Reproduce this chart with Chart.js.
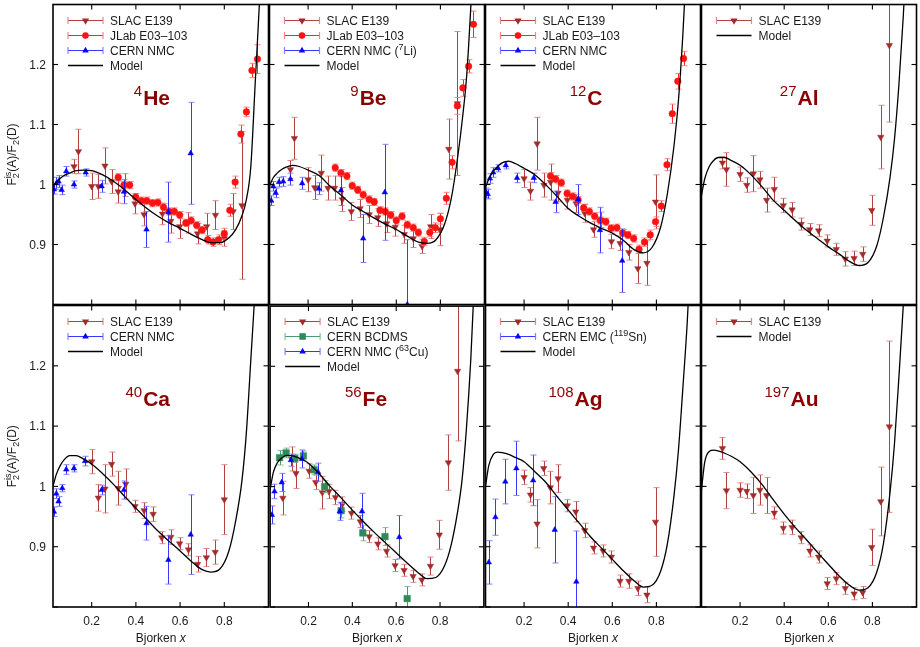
<!DOCTYPE html>
<html>
<head>
<meta charset="utf-8">
<script src="https://cdn.jsdelivr.net/npm/chart.js@4.4.0/dist/chart.umd.min.js"></script>
<style>
  body { margin: 0; background: #fff; }
  #wrap { position: relative; width: 920px; height: 647px; overflow: hidden; }
  #wrap canvas { position: absolute; }
</style>
</head>
<body>
<div id="wrap"></div>
<script>
// axis ticks
const xTicks = [0.2, 0.4, 0.6, 0.8];
const xTickLabels = ["0.2", "0.4", "0.6", "0.8"];
const yTicks = [0.8, 0.9, 1.0, 1.1, 1.2];
const yTickLabels = ["", "0.9", "1", "1.1", "1.2"];

// model curves, common x grid
const modelX = [0.025,0.04,0.06,0.08,0.1,0.13,0.16,0.2,0.25,0.3,0.35,0.4,0.45,0.5,0.55,0.6,0.65,0.7,0.74,0.78,0.82,0.85,0.88,0.9,0.92,0.94,0.96,0.98];
const heModel = [0.997,1.004,1.011,1.016,1.019,1.023,1.024,1.023,1.016,1.005,0.991,0.975,0.960,0.947,0.936,0.927,0.917,0.908,0.903,0.903,0.911,0.924,0.948,0.975,1.03,1.17,1.31,1.5];
const beModel = [0.997,1.010,1.019,1.025,1.029,1.032,1.030,1.024,1.015,0.997,0.982,0.966,0.955,0.944,0.934,0.925,0.914,0.904,0.902,0.908,0.935,0.978,1.05,1.11,1.185,1.31,1.45,1.65];
const cModel  = [0.995,1.009,1.022,1.030,1.036,1.039,1.035,1.027,1.016,0.999,0.980,0.960,0.947,0.936,0.927,0.919,0.907,0.891,0.886,0.895,0.93,0.985,1.065,1.14,1.25,1.39,1.55,1.75];
const alModel = [0.982,1.010,1.030,1.040,1.045,1.045,1.040,1.032,1.016,0.996,0.974,0.957,0.940,0.924,0.910,0.896,0.884,0.871,0.865,0.870,0.898,0.945,1.012,1.075,1.165,1.28,1.42,1.6];
const caModel = [1.0,1.020,1.036,1.046,1.051,1.051,1.046,1.037,1.021,1.003,0.983,0.964,0.945,0.926,0.909,0.893,0.876,0.862,0.858,0.863,0.892,0.94,1.01,1.09,1.21,1.33,1.46,1.65];
const feModel = [0.995,1.024,1.041,1.048,1.052,1.051,1.047,1.039,1.021,1.000,0.981,0.961,0.942,0.924,0.907,0.890,0.873,0.857,0.847,0.849,0.868,0.902,0.958,1.01,1.095,1.21,1.37,1.55];
const agModel = [1.0,1.035,1.053,1.057,1.056,1.053,1.048,1.041,1.024,1.006,0.983,0.961,0.939,0.917,0.898,0.879,0.860,0.843,0.833,0.836,0.860,0.905,0.985,1.06,1.163,1.273,1.42,1.6];
const auModel = [0.995,1.041,1.058,1.060,1.059,1.055,1.050,1.041,1.024,1.003,0.978,0.954,0.932,0.912,0.891,0.871,0.851,0.835,0.828,0.832,0.858,0.905,0.99,1.07,1.18,1.30,1.45,1.65];

// 4He
const heSlacX = [0.12,0.14,0.2,0.23,0.26,0.29,0.32,0.35,0.396,0.437,0.52,0.558,0.598,0.638,0.679,0.72,0.76,0.80,0.84,0.88];
const heSlacY = [1.030,1.055,0.997,0.997,1.031,1.005,0.988,0.999,0.968,0.950,0.951,0.939,0.930,0.936,0.918,0.930,0.949,0.910,0.955,0.965];
const heSlacErr = [0.012,0.037,0.022,0.02,0.03,0.02,0.019,0.019,0.017,0.019,0.018,0.02,0.02,0.017,0.017,0.022,0.024,0.013,0.03,0.123];
const heJlabX = [0.32,0.346,0.372,0.399,0.425,0.449,0.475,0.499,0.525,0.55,0.574,0.598,0.626,0.65,0.675,0.70,0.725,0.749,0.774,0.80,0.825,0.849,0.875,0.90,0.925,0.95];
const heJlabY = [1.012,0.999,0.999,0.979,0.973,0.973,0.969,0.970,0.962,0.955,0.955,0.949,0.936,0.940,0.932,0.924,0.908,0.904,0.908,0.918,0.957,1.004,1.084,1.121,1.19,1.209];
const heJlabErr = [0.006,0.006,0.006,0.006,0.006,0.006,0.006,0.006,0.006,0.006,0.006,0.006,0.006,0.006,0.006,0.006,0.007,0.007,0.008,0.009,0.01,0.01,0.015,0.008,0.012,0.024];
const heNmcX = [0.029,0.04,0.05,0.064,0.085,0.12,0.173,0.245,0.346,0.448,0.547,0.648];
const heNmcY = [0.992,1.002,1.005,0.991,1.022,1.0,1.02,0.997,0.988,0.925,0.954,1.052];
const heNmcErr = [0.008,0.01,0.01,0.008,0.008,0.006,0.006,0.01,0.02,0.03,0.05,0.085];

// 9Be
const beSlacX = [0.12,0.138,0.2,0.23,0.26,0.29,0.32,0.355,0.396,0.436,0.477,0.516,0.556,0.595,0.636,0.677,0.717,0.756,0.797,0.838,0.877];
const beSlacY = [1.025,1.077,1.008,0.995,1.019,0.994,0.994,0.975,0.955,0.960,0.950,0.945,0.935,0.929,0.917,0.910,0.897,0.930,0.925,1.059,1.135];
const beSlacErr = [0.015,0.035,0.02,0.02,0.03,0.02,0.02,0.02,0.015,0.015,0.015,0.015,0.015,0.015,0.015,0.015,0.012,0.02,0.027,0.05,0.12];
const beJlabX = [0.323,0.349,0.376,0.4,0.425,0.45,0.477,0.5,0.526,0.55,0.575,0.6,0.626,0.65,0.677,0.70,0.727,0.752,0.777,0.80,0.827,0.853,0.877,0.902,0.928,0.95];
const beJlabY = [1.028,1.019,1.014,0.998,0.991,0.983,0.975,0.971,0.957,0.955,0.949,0.94,0.947,0.933,0.928,0.92,0.905,0.92,0.928,0.943,0.977,1.037,1.131,1.161,1.197,1.267];
const beJlabErr = [0.006,0.006,0.006,0.006,0.006,0.006,0.006,0.006,0.006,0.006,0.006,0.006,0.006,0.006,0.006,0.006,0.007,0.007,0.008,0.009,0.01,0.011,0.014,0.014,0.011,0.022];
const beNmcX = [0.033,0.042,0.053,0.068,0.087,0.12,0.173,0.248,0.349,0.45,0.548,0.65];
const beNmcY = [0.973,0.997,0.986,1.004,1.005,1.009,1.002,0.993,0.990,0.910,0.987,0.80];
const beNmcErr = [0.008,0.008,0.008,0.008,0.008,0.01,0.01,0.01,0.025,0.04,0.08,0.108];

// 12C
const cSlacX = [0.2,0.229,0.259,0.29,0.32,0.354,0.396,0.436,0.475,0.515,0.55,0.596,0.635,0.675,0.716,0.757,0.796];
const cSlacY = [1.01,0.989,1.068,0.999,1.004,0.986,0.974,0.968,0.952,0.925,0.941,0.905,0.902,0.887,0.86,0.869,0.971];
const cSlacErr = [0.015,0.015,0.044,0.02,0.03,0.015,0.015,0.015,0.015,0.013,0.013,0.012,0.012,0.013,0.025,0.037,0.045];
const cJlabX = [0.32,0.343,0.369,0.395,0.42,0.445,0.47,0.496,0.52,0.546,0.571,0.595,0.621,0.647,0.671,0.697,0.721,0.746,0.772,0.796,0.822,0.848,0.872,0.897,0.923];
const cJlabY = [1.014,1.009,1.003,0.985,0.98,0.974,0.961,0.955,0.947,0.94,0.938,0.927,0.928,0.919,0.916,0.91,0.892,0.904,0.916,0.938,0.964,1.033,1.118,1.172,1.21];
const cJlabErr = [0.006,0.006,0.006,0.006,0.006,0.006,0.006,0.006,0.006,0.006,0.006,0.006,0.006,0.006,0.006,0.006,0.007,0.007,0.008,0.008,0.009,0.01,0.016,0.013,0.012];
const cNmcX = [0.029,0.035,0.045,0.06,0.082,0.117,0.168,0.244,0.343,0.445,0.544,0.645];
const cNmcY = [0.986,0.984,1.01,1.02,1.027,1.032,1.011,1.011,0.971,0.975,0.924,0.873];
const cNmcErr = [0.008,0.008,0.008,0.008,0.006,0.006,0.008,0.008,0.018,0.025,0.038,0.053];

// 27Al
const alSlacX = [0.12,0.138,0.2,0.23,0.26,0.29,0.32,0.355,0.396,0.436,0.477,0.516,0.556,0.595,0.636,0.677,0.717,0.756,0.797,0.838,0.877];
const alSlacY = [1.036,1.025,1.017,0.999,1.018,1.008,0.974,0.992,0.965,0.958,0.934,0.925,0.923,0.906,0.892,0.876,0.877,0.884,0.957,1.079,1.232];
const alSlacErr = [0.01,0.028,0.012,0.012,0.03,0.014,0.02,0.02,0.012,0.012,0.01,0.01,0.01,0.01,0.01,0.012,0.012,0.012,0.025,0.053,0.128];

// 40Ca
const caSlacX = [0.2,0.23,0.26,0.29,0.32,0.354,0.396,0.437,0.478,0.517,0.558,0.598,0.638,0.679,0.719,0.759,0.80];
const caSlacY = [1.041,0.981,0.996,1.037,0.997,1.004,0.967,0.960,0.954,0.915,0.916,0.905,0.895,0.871,0.882,0.891,0.978];
const caSlacErr = [0.02,0.022,0.04,0.02,0.028,0.025,0.01,0.013,0.012,0.01,0.012,0.01,0.01,0.013,0.015,0.02,0.058];
const caNmcX = [0.029,0.04,0.05,0.067,0.085,0.12,0.17,0.245,0.346,0.448,0.547,0.648];
const caNmcY = [0.958,0.988,0.975,0.997,1.028,1.03,1.042,0.994,0.994,0.939,0.878,0.92];
const caNmcErr = [0.008,0.008,0.008,0.006,0.008,0.006,0.008,0.008,0.015,0.028,0.04,0.066];

// 56Fe
const feSlacX = [0.083,0.123,0.143,0.203,0.233,0.263,0.293,0.323,0.355,0.396,0.436,0.477,0.516,0.556,0.595,0.636,0.677,0.717,0.756,0.797,0.838,0.88];
const feSlacY = [0.981,1.046,1.022,1.026,1.007,0.99,0.992,0.982,0.971,0.956,0.942,0.917,0.905,0.893,0.869,0.861,0.851,0.845,0.868,0.92,1.04,1.192];
const feSlacErr = [0.028,0.02,0.025,0.012,0.012,0.027,0.012,0.012,0.012,0.01,0.01,0.01,0.01,0.01,0.01,0.01,0.01,0.01,0.015,0.024,0.046,0.116];
const feBcdmsX = [0.068,0.098,0.138,0.177,0.226,0.274,0.349,0.448,0.549,0.65];
const feBcdmsY = [1.048,1.056,1.047,1.051,1.028,1.0,0.96,0.923,0.917,0.814];
const feBcdmsErr = [0.012,0.008,0.007,0.008,0.008,0.01,0.012,0.013,0.015,0.02];
const feNmcX = [0.033,0.045,0.078,0.12,0.17,0.244,0.343,0.444,0.614];
const feNmcY = [0.953,0.992,1.007,1.044,1.046,1.024,0.959,0.959,0.916];
const feNmcErr = [0.015,0.012,0.015,0.01,0.015,0.015,0.015,0.03,0.036];

// 108Ag
const agSlacX = [0.2,0.229,0.259,0.289,0.319,0.354,0.396,0.434,0.475,0.515,0.558,0.596,0.635,0.675,0.716,0.757,0.796];
const agSlacY = [1.015,0.986,0.938,1.03,0.998,1.013,0.968,0.958,0.927,0.898,0.893,0.883,0.843,0.843,0.831,0.82,0.941];
const agSlacErr = [0.012,0.012,0.04,0.012,0.027,0.023,0.01,0.017,0.012,0.01,0.01,0.01,0.01,0.012,0.012,0.013,0.057];
const agEmcX = [0.04,0.07,0.115,0.165,0.241,0.339,0.437];
const agEmcY = [0.874,0.949,1.008,1.03,1.01,0.928,0.842];
const agEmcErr = [0.036,0.03,0.037,0.045,0.042,0.055,0.084];

// 197Au
const auSlacX = [0.12,0.138,0.2,0.23,0.26,0.29,0.32,0.355,0.396,0.436,0.477,0.516,0.556,0.595,0.636,0.677,0.717,0.756,0.797,0.838,0.877];
const auSlacY = [1.063,0.993,0.994,0.992,0.985,0.994,0.985,0.956,0.931,0.932,0.915,0.893,0.883,0.839,0.847,0.831,0.822,0.824,0.899,0.975,1.099];
const auSlacErr = [0.018,0.03,0.012,0.012,0.03,0.025,0.03,0.01,0.01,0.012,0.01,0.01,0.01,0.01,0.01,0.01,0.01,0.01,0.03,0.057,0.142];

const FONT = '"Liberation Sans", Arial, Helvetica, sans-serif';

// look of each experiment
const STYLE = {
    slac:  { color: "#a52a2a", bar: "rgba(170,45,45,0.9)", cap: "rgba(215,120,120,0.85)", shape: "triangle", rot: 180, r: 3.7 },
    jlab:  { color: "#ff1212", bar: "rgba(240,20,20,0.9)", cap: "rgba(255,120,120,0.9)", shape: "circle", rot: 0, r: 3.3 },
    nmc:   { color: "#0000ff", bar: "rgba(20,20,255,0.85)", cap: "rgba(110,110,255,0.85)", shape: "triangle", rot: 0, r: 3.2 },
    bcdms: { color: "#2e8b57", bar: "rgba(46,139,87,0.85)", cap: "rgba(110,180,140,0.85)", shape: "rect", rot: 0, r: 4.6 }
};

const panels = [
    { mass: "4", el: "He", model: heModel, sets: [
        { kind: "slac", label: "SLAC E139", x: heSlacX, y: heSlacY, err: heSlacErr },
        { kind: "jlab", label: "JLab E03\u2013103", x: heJlabX, y: heJlabY, err: heJlabErr },
        { kind: "nmc", label: "CERN NMC", x: heNmcX, y: heNmcY, err: heNmcErr } ] },
    { mass: "9", el: "Be", model: beModel, sets: [
        { kind: "slac", label: "SLAC E139", x: beSlacX, y: beSlacY, err: beSlacErr },
        { kind: "jlab", label: "JLab E03\u2013103", x: beJlabX, y: beJlabY, err: beJlabErr },
        { kind: "nmc", label: "CERN NMC (^{7}Li)", x: beNmcX, y: beNmcY, err: beNmcErr } ] },
    { mass: "12", el: "C", model: cModel, sets: [
        { kind: "slac", label: "SLAC E139", x: cSlacX, y: cSlacY, err: cSlacErr },
        { kind: "jlab", label: "JLab E03\u2013103", x: cJlabX, y: cJlabY, err: cJlabErr },
        { kind: "nmc", label: "CERN NMC", x: cNmcX, y: cNmcY, err: cNmcErr } ] },
    { mass: "27", el: "Al", model: alModel, sets: [
        { kind: "slac", label: "SLAC E139", x: alSlacX, y: alSlacY, err: alSlacErr } ] },
    { mass: "40", el: "Ca", model: caModel, sets: [
        { kind: "slac", label: "SLAC E139", x: caSlacX, y: caSlacY, err: caSlacErr },
        { kind: "nmc", label: "CERN NMC", x: caNmcX, y: caNmcY, err: caNmcErr } ] },
    { mass: "56", el: "Fe", model: feModel, sets: [
        { kind: "slac", label: "SLAC E139", x: feSlacX, y: feSlacY, err: feSlacErr },
        { kind: "bcdms", label: "CERN BCDMS", x: feBcdmsX, y: feBcdmsY, err: feBcdmsErr },
        { kind: "nmc", label: "CERN NMC (^{63}Cu)", x: feNmcX, y: feNmcY, err: feNmcErr } ] },
    { mass: "108", el: "Ag", model: agModel, sets: [
        { kind: "slac", label: "SLAC E139", x: agSlacX, y: agSlacY, err: agSlacErr },
        { kind: "nmc", label: "CERN EMC (^{119}Sn)", x: agEmcX, y: agEmcY, err: agEmcErr } ] },
    { mass: "197", el: "Au", model: auModel, sets: [
        { kind: "slac", label: "SLAC E139", x: auSlacX, y: auSlacY, err: auSlacErr } ] }
];

// text with _{sub} and ^{sup}; a sup right after a sub is stacked over it
function richLayout(ctx, str, size) {
    const parts = str.split(/(_\{[^}]*\}|\^\{[^}]*\})/).filter(s => s);
    let x = 0, lastSub = null;
    const out = [];
    parts.forEach(s => {
        let kind = "n", t = s;
        if (s.startsWith("_{")) { kind = "sub"; t = s.slice(2, -1); }
        else if (s.startsWith("^{")) { kind = "sup"; t = s.slice(2, -1); }
        const fs = kind === "n" ? size : Math.round(size * 0.72);
        ctx.font = fs + "px " + FONT;
        const w = ctx.measureText(t).width;
        if (kind === "sup" && lastSub) {
            out.push({ t, kind, fs, x: lastSub.x });
            x = lastSub.x + Math.max(lastSub.w, w);
            lastSub = null;
            return;
        }
        const seg = { t, kind, fs, x, w };
        out.push(seg);
        x += w;
        lastSub = kind === "sub" ? seg : null;
    });
    return { segs: out, width: x };
}

function drawRich(ctx, str, x, y, size, align) {
    const lay = richLayout(ctx, str, size);
    const x0 = align === "center" ? x - lay.width / 2 : x;
    ctx.textAlign = "left";
    ctx.textBaseline = "alphabetic";
    lay.segs.forEach(s => {
        ctx.font = s.fs + "px " + FONT;
        const dy = s.kind === "sub" ? size * 0.28 : s.kind === "sup" ? -size * 0.42 : 0;
        ctx.fillText(s.t, x0 + s.x, y + dy);
    });
}

function line(ctx, x1, y1, x2, y2) {
    ctx.beginPath();
    ctx.moveTo(x1, y1);
    ctx.lineTo(x2, y2);
    ctx.stroke();
}

function panelPlugin(p, row, col) {
    return {
        id: "panel" + row + col,
        beforeDatasetDraw(chart, args) {
            const ds = chart.data.datasets[args.index];
            if (!ds.err) return;
            const st = STYLE[ds.kind];
            const { ctx, chartArea: a } = chart;
            const xs = chart.scales.x, ys = chart.scales.y;
            ctx.save();
            ctx.beginPath();
            ctx.rect(a.left, a.top, a.right - a.left, a.bottom - a.top);
            ctx.clip();
            ctx.lineWidth = 1;
            ds.data.forEach((pt, j) => {
                const px = Math.round(xs.getPixelForValue(pt.x)) + 0.5;
                const yHi = ys.getPixelForValue(pt.y + ds.err[j]);
                const yLo = ys.getPixelForValue(pt.y - ds.err[j]);
                ctx.strokeStyle = st.bar;
                line(ctx, px, yHi, px, yLo);
                ctx.strokeStyle = st.cap;
                line(ctx, px - 3, yHi, px + 3, yHi);
                line(ctx, px - 3, yLo, px + 3, yLo);
            });
            ctx.restore();
        },
        afterDatasetsDraw(chart) {
            const { ctx, chartArea: a } = chart;
            const xs = chart.scales.x, ys = chart.scales.y;
            ctx.save();

            // frame and inward ticks on all sides
            ctx.strokeStyle = "#000";
            ctx.lineWidth = 1.6;
            ctx.strokeRect(a.left, a.top, a.right - a.left, a.bottom - a.top);
            ctx.lineWidth = 1.1;
            xTicks.forEach(v => {
                const px = xs.getPixelForValue(v);
                line(ctx, px, a.bottom, px, a.bottom - 5);
                line(ctx, px, a.top, px, a.top + 5);
            });
            yTicks.forEach(v => {
                const py = ys.getPixelForValue(v);
                line(ctx, a.left, py, a.left + 5, py);
                line(ctx, a.right, py, a.right - 5, py);
            });

            ctx.fillStyle = "#1a1a1a";
            if (col === 0) {
                ctx.font = "12px " + FONT;
                ctx.textAlign = "right";
                ctx.textBaseline = "middle";
                yTicks.forEach((v, k) => ctx.fillText(yTickLabels[k], a.left - 7, ys.getPixelForValue(v) + 1));
                ctx.save();
                ctx.translate(12, (a.top + a.bottom) / 2);
                ctx.rotate(-Math.PI / 2);
                drawRich(ctx, "F_{2}^{is}(A)/F_{2}(D)", 0, 4, 12, "center");
                ctx.restore();
            }
            if (row === 1) {
                ctx.font = "12px " + FONT;
                ctx.textAlign = "center";
                ctx.textBaseline = "alphabetic";
                xTicks.forEach((v, k) => ctx.fillText(xTickLabels[k], xs.getPixelForValue(v), a.bottom + 18));
                const cx = (a.left + a.right) / 2;
                ctx.font = "12px " + FONT;
                const w1 = ctx.measureText("Bjorken ").width;
                ctx.font = "italic 12px " + FONT;
                const w2 = ctx.measureText("x").width;
                ctx.textAlign = "left";
                ctx.font = "12px " + FONT;
                ctx.fillText("Bjorken ", cx - (w1 + w2) / 2, a.bottom + 35);
                ctx.font = "italic 12px " + FONT;
                ctx.fillText("x", cx - (w1 + w2) / 2 + w1, a.bottom + 35);
            }

            // legend
            const entries = p.sets.map(s => ({ kind: s.kind, label: s.label }));
            entries.push({ kind: null, label: "Model" });
            entries.forEach((e, k) => {
                const yy = Math.round(a.top + 15 + 15 * k) + 0.5;
                const x0 = a.left + 15, x1 = a.left + 50;
                if (e.kind) {
                    const st = STYLE[e.kind];
                    ctx.lineWidth = 1.2;
                    ctx.strokeStyle = st.bar;
                    line(ctx, x0, yy, x1, yy);
                    ctx.strokeStyle = st.cap;
                    line(ctx, x0, yy - 3.5, x0, yy + 3.5);
                    line(ctx, x1, yy - 3.5, x1, yy + 3.5);
                    ctx.fillStyle = st.color;
                    ctx.strokeStyle = st.color;
                    Chart.helpers.drawPoint(ctx, { pointStyle: st.shape, rotation: st.rot, radius: st.r * 0.8, borderWidth: 0.5 }, (x0 + x1) / 2, yy);
                } else {
                    ctx.lineWidth = 1.3;
                    ctx.strokeStyle = "#000";
                    line(ctx, x0, yy, x1, yy);
                }
                ctx.fillStyle = "#1a1a1a";
                drawRich(ctx, e.label, a.left + 57, yy + 4.5, 12, "left");
            });

            // nucleus label
            const right = a.left + 117, base = a.top + 100;
            ctx.fillStyle = "#8b0000";
            ctx.textBaseline = "alphabetic";
            ctx.textAlign = "left";
            ctx.font = "bold 21px " + FONT;
            const we = ctx.measureText(p.el).width;
            ctx.font = "15px " + FONT;
            const wm = ctx.measureText(p.mass).width;
            ctx.fillText(p.mass, right - we - wm - 1, base - 9);
            ctx.font = "bold 21px " + FONT;
            ctx.fillText(p.el, right - we, base);

            ctx.restore();
        }
    };
}

const wrap = document.getElementById("wrap");

panels.forEach((p, i) => {
    const row = Math.floor(i / 4), col = i % 4;
    const plotL = 53 + 216 * col, plotT = 3 + 302 * row;
    const pad = { left: col === 0 ? 53 : 4, right: 4, top: row === 0 ? 3 : 4, bottom: row === 1 ? 40 : 4 };

    const cv = document.createElement("canvas");
    cv.width = pad.left + 216 + pad.right;
    cv.height = pad.top + 302 + pad.bottom;
    cv.style.left = (plotL - pad.left) + "px";
    cv.style.top = (plotT - pad.top) + "px";
    wrap.appendChild(cv);

    const datasets = p.sets.map((s, k) => {
        const st = STYLE[s.kind];
        return {
            label: s.label,
            kind: s.kind,
            err: s.err,
            data: s.x.map((x, j) => ({ x, y: s.y[j] })),
            pointStyle: st.shape,
            rotation: st.rot,
            pointRadius: st.r,
            backgroundColor: st.color,
            borderColor: st.color,
            borderWidth: 0.5,
            order: 10 - k
        };
    });
    datasets.push({
        label: "Model",
        data: modelX.map((x, j) => ({ x, y: p.model[j] })),
        showLine: true,
        borderColor: "#000",
        borderWidth: 1.3,
        pointRadius: 0,
        cubicInterpolationMode: "monotone",
        fill: false,
        order: 0
    });

    new Chart(cv, {
        type: "scatter",
        data: { datasets },
        options: {
            responsive: false,
            animation: false,
            devicePixelRatio: 1,
            layout: { padding: pad },
            scales: {
                x: { type: "linear", min: 0.025, max: 1.0, display: false },
                y: { type: "linear", min: 0.8, max: 1.3, display: false }
            },
            plugins: { legend: { display: false }, tooltip: { enabled: false } }
        },
        plugins: [panelPlugin(p, row, col)]
    });
});
</script>
</body>
</html>
